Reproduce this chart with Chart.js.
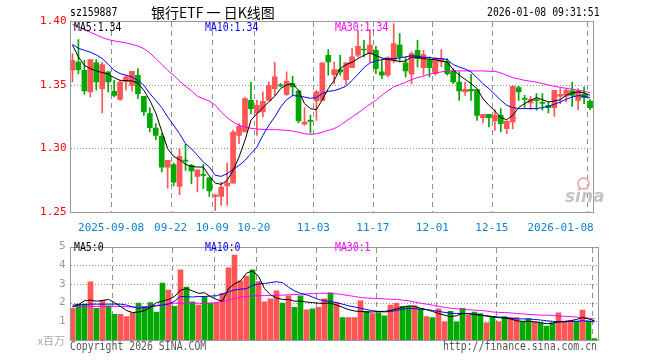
<!DOCTYPE html>
<html>
<head>
<meta charset="utf-8">
<script src="https://cdn.jsdelivr.net/npm/chart.js@4.4.1/dist/chart.umd.min.js"></script>
<style>
  body { margin: 0; background: #fff; }
  #wrap { position: relative; width: 660px; height: 360px; overflow: hidden; background: #fff; }
  canvas { position: absolute; left: 0; }
  .t { position: absolute; font: 12px "DejaVu Sans Mono", monospace; line-height: 12px; white-space: pre; transform: scaleX(0.82); transform-origin: 0 0; }
  .cjk { position: absolute; font-family: "Noto Sans CJK SC", sans-serif; white-space: pre; }
</style>
</head>
<body>
<div id="wrap">
  <canvas id="kChart" width="660" height="236" style="top:0"></canvas>
  <canvas id="volChart" width="660" height="124" style="top:236px"></canvas>

  <div class="t" style="left:70px;top:6px;color:#000">sz159887</div>
  <div class="cjk" style="left:151px;top:2px;font-size:14px;line-height:20px;color:#000">银行ETF 一 日K线图</div>
  <div class="t" style="left:487px;top:6px;color:#000">2026-01-08 09:31:51</div>

  <div class="t" style="left:74px;top:21px;color:#000">MA5:1.34</div>
  <div class="t" style="left:205px;top:21px;color:#0000ff">MA10:1.34</div>
  <div class="t" style="left:335px;top:21px;color:#ff00ff">MA30:1.34</div>

  <div class="t" style="left:74px;top:241px;color:#000">MA5:0</div>
  <div class="t" style="left:205px;top:241px;color:#0000ff">MA10:0</div>
  <div class="t" style="left:335px;top:241px;color:#ff00ff">MA30:1</div>

  <div class="cjk" style="right:595px;top:333px;font-size:11px;line-height:14px;color:#aaa">x百万</div>
  <div class="t" style="left:70px;top:340px;color:#555">Copyright 2026 SINA.COM</div>
  <div class="t" style="left:443px;top:340px;color:#555">http://finance.sina.com.cn</div>

  <div style="position:absolute;left:577px;top:177px;width:9px;height:9px;border:2px solid #f3b0b0;border-radius:50%"></div>
  <div style="position:absolute;left:565px;top:186px;font:italic bold 17px 'DejaVu Sans',sans-serif;color:#c4c4c4">sina</div>
</div>

<script>
const dates = [
  '2025-08-28', '2025-08-29', '2025-09-01', '2025-09-02', '2025-09-03', '2025-09-04', '2025-09-05',
  '2025-09-08', '2025-09-09', '2025-09-10', '2025-09-11', '2025-09-12',
  '2025-09-15', '2025-09-16', '2025-09-17', '2025-09-18', '2025-09-19',
  '2025-09-22', '2025-09-23', '2025-09-24', '2025-09-25', '2025-09-26',
  '2025-09-29', '2025-09-30', '2025-10-09', '2025-10-10',
  '2025-10-13', '2025-10-14', '2025-10-15', '2025-10-16', '2025-10-17',
  '2025-10-20', '2025-10-21', '2025-10-22', '2025-10-23', '2025-10-24',
  '2025-10-27', '2025-10-28', '2025-10-29', '2025-10-30', '2025-10-31',
  '2025-11-03', '2025-11-04', '2025-11-05', '2025-11-06', '2025-11-07',
  '2025-11-10', '2025-11-11', '2025-11-12', '2025-11-13', '2025-11-14',
  '2025-11-17', '2025-11-18', '2025-11-19', '2025-11-20', '2025-11-21',
  '2025-11-24', '2025-11-25', '2025-11-26', '2025-11-27', '2025-11-28',
  '2025-12-01', '2025-12-02', '2025-12-03', '2025-12-04', '2025-12-05',
  '2025-12-08', '2025-12-09', '2025-12-10', '2025-12-11', '2025-12-12',
  '2025-12-15', '2025-12-16', '2025-12-17', '2025-12-18', '2025-12-19',
  '2025-12-22', '2025-12-23', '2025-12-24', '2025-12-25', '2025-12-26',
  '2025-12-29', '2025-12-30', '2025-12-31',
  '2026-01-05', '2026-01-06', '2026-01-07', '2026-01-08'
];

// dates that get a label + dashed grid line, and the text shown
const tickDates = ['2025-09-08', '2025-09-22', '2025-10-09', '2025-10-20', '2025-11-03', '2025-11-17', '2025-12-01', '2025-12-15', '2026-01-08'];
const tickTexts = ['2025-09-08', '09-22', '10-09', '10-20', '11-03', '11-17', '12-01', '12-15', '2026-01-08        '];

const priceTicks = [1.25, 1.30, 1.35, 1.40];
const volTicks = [1, 2, 3, 4, 5];

const openP = [
  1.3613, 1.3678, 1.3613, 1.3443, 1.3671, 1.3469, 1.3600, 1.3448, 1.3385, 1.3521,
  1.3495, 1.3574, 1.3409, 1.3272, 1.3160, 1.3094, 1.2853, 1.2872, 1.2701, 1.2906,
  1.2866, 1.2780, 1.2796, 1.2769, 1.2622, 1.2623, 1.2704, 1.2727, 1.3102, 1.3128,
  1.3377, 1.3278, 1.3285, 1.3377, 1.3469, 1.3497, 1.3424, 1.3508, 1.3451, 1.3189,
  1.3217, 1.3372, 1.3377, 1.3731, 1.3579, 1.3618, 1.3540, 1.3634, 1.3731, 1.3777,
  1.3744, 1.3770, 1.3600, 1.3574, 1.3686, 1.3810, 1.3671, 1.3582, 1.3770, 1.3634,
  1.3692, 1.3587, 1.3678, 1.3678, 1.3608, 1.3521, 1.3443, 1.3464, 1.3461, 1.3241,
  1.3267, 1.3215, 1.3259, 1.3154, 1.3207, 1.3477, 1.3390, 1.3356, 1.3380, 1.3358,
  1.3338, 1.3320, 1.3409, 1.3409, 1.3451, 1.3377, 1.3424, 1.3372
];
const closeP = [
  1.3692, 1.3618, 1.3451, 1.3697, 1.3521, 1.3658, 1.3521, 1.3416, 1.3521, 1.3561,
  1.3605, 1.3430, 1.3285, 1.3162, 1.3102, 1.2853, 1.2906, 1.2735, 1.2937, 1.2900,
  1.2822, 1.2832, 1.2788, 1.2665, 1.2635, 1.2696, 1.2730, 1.3128, 1.3173, 1.3390,
  1.3312, 1.3338, 1.3369, 1.3495, 1.3561, 1.3490, 1.3527, 1.3482, 1.3215, 1.3207,
  1.3212, 1.3443, 1.3671, 1.3678, 1.3618, 1.3600, 1.3671, 1.3718, 1.3802, 1.3772,
  1.3810, 1.3626, 1.3574, 1.3713, 1.3823, 1.3718, 1.3608, 1.3744, 1.3705, 1.3736,
  1.3634, 1.3705, 1.3705, 1.3587, 1.3521, 1.3451, 1.3464, 1.3451, 1.3259, 1.3267,
  1.3241, 1.3259, 1.3194, 1.3215, 1.3487, 1.3443, 1.3385, 1.3382, 1.3375, 1.3353,
  1.3320, 1.3456, 1.3424, 1.3456, 1.3416, 1.3451, 1.3398, 1.3320
];
const highP = [
  1.3744, 1.3854, 1.3692, 1.3697, 1.3697, 1.3678, 1.3600, 1.3534, 1.3534, 1.3574,
  1.3605, 1.3626, 1.3409, 1.3320, 1.3194, 1.3115, 1.2906, 1.2885, 1.2997, 1.3031,
  1.2874, 1.2832, 1.2874, 1.2769, 1.2635, 1.2735, 1.2885, 1.3141, 1.3194, 1.3398,
  1.3521, 1.3377, 1.3443, 1.3521, 1.3678, 1.3508, 1.3600, 1.3566, 1.3456, 1.3320,
  1.3259, 1.3456, 1.3671, 1.3775, 1.3678, 1.3731, 1.3671, 1.3783, 1.3927, 1.3849,
  1.3933, 1.3802, 1.3692, 1.3718, 1.3980, 1.3901, 1.3718, 1.3757, 1.3849, 1.3770,
  1.3718, 1.3713, 1.3775, 1.3705, 1.3626, 1.3600, 1.3521, 1.3582, 1.3461, 1.3267,
  1.3267, 1.3304, 1.3312, 1.3215, 1.3487, 1.3487, 1.3416, 1.3409, 1.3430, 1.3430,
  1.3364, 1.3456, 1.3469, 1.3469, 1.3521, 1.3469, 1.3482, 1.3382
];
const lowP = [
  1.3521, 1.3587, 1.3424, 1.3403, 1.3456, 1.3278, 1.3443, 1.3403, 1.3377, 1.3456,
  1.3448, 1.3390, 1.3259, 1.3128, 1.3068, 1.2814, 1.2688, 1.2704, 1.2636, 1.2827,
  1.2722, 1.2657, 1.2683, 1.2623, 1.2512, 1.2551, 1.2552, 1.2727, 1.3037, 1.3128,
  1.3272, 1.3102, 1.3246, 1.3377, 1.3416, 1.3482, 1.3416, 1.3416, 1.3199, 1.3181,
  1.3120, 1.3220, 1.3377, 1.3574, 1.3508, 1.3574, 1.3500, 1.3634, 1.3718, 1.3718,
  1.3678, 1.3587, 1.3547, 1.3561, 1.3671, 1.3678, 1.3561, 1.3508, 1.3639, 1.3574,
  1.3561, 1.3574, 1.3639, 1.3574, 1.3508, 1.3377, 1.3416, 1.3377, 1.3220, 1.3199,
  1.3168, 1.3141, 1.3128, 1.3115, 1.3154, 1.3377, 1.3320, 1.3304, 1.3299, 1.3299,
  1.3278, 1.3251, 1.3351, 1.3364, 1.3330, 1.3304, 1.3351, 1.3304
];

const ma5 = [
  1.3810, 1.3718, 1.3652, 1.3626, 1.3608, 1.3595, 1.3584, 1.3555, 1.3534, 1.3532,
  1.3529, 1.3513, 1.3456, 1.3377, 1.3278, 1.3134, 1.2997, 1.2937, 1.2911, 1.2874,
  1.2858, 1.2853, 1.2853, 1.2783, 1.2727, 1.2717, 1.2748, 1.2827, 1.2932, 1.3063,
  1.3220, 1.3272, 1.3320, 1.3364, 1.3409, 1.3469, 1.3498, 1.3508, 1.3456, 1.3351,
  1.3312, 1.3304, 1.3382, 1.3469, 1.3534, 1.3626, 1.3658, 1.3676, 1.3705, 1.3731,
  1.3749, 1.3728, 1.3710, 1.3699, 1.3692, 1.3681, 1.3686, 1.3718, 1.3713, 1.3705,
  1.3699, 1.3697, 1.3686, 1.3678, 1.3618, 1.3574, 1.3542, 1.3508, 1.3469, 1.3390,
  1.3338, 1.3293, 1.3241, 1.3225, 1.3259, 1.3320, 1.3351, 1.3377, 1.3398, 1.3382,
  1.3364, 1.3372, 1.3382, 1.3417, 1.3435, 1.3443, 1.3435, 1.3417
];
const ma10 = [
  1.3817, 1.3786, 1.3770, 1.3755, 1.3734, 1.3705, 1.3660, 1.3613, 1.3587, 1.3574,
  1.3561, 1.3534, 1.3495, 1.3430, 1.3377, 1.3320, 1.3246, 1.3181, 1.3115, 1.3037,
  1.2997, 1.2945, 1.2892, 1.2853, 1.2788, 1.2780, 1.2801, 1.2835, 1.2866, 1.2906,
  1.2958, 1.3010, 1.3102, 1.3181, 1.3246, 1.3325, 1.3382, 1.3414, 1.3411, 1.3403,
  1.3393, 1.3398, 1.3430, 1.3448, 1.3453, 1.3469, 1.3487, 1.3534, 1.3582, 1.3634,
  1.3671, 1.3686, 1.3697, 1.3702, 1.3705, 1.3710, 1.3718, 1.3728, 1.3723, 1.3715,
  1.3713, 1.3707, 1.3705, 1.3697, 1.3658, 1.3639, 1.3623, 1.3600, 1.3555, 1.3508,
  1.3469, 1.3424, 1.3377, 1.3338, 1.3320, 1.3312, 1.3312, 1.3312, 1.3312, 1.3320,
  1.3330, 1.3346, 1.3364, 1.3385, 1.3403, 1.3414, 1.3409, 1.3398
];
const ma30 = [
  1.3975, 1.3954, 1.3933, 1.3912, 1.3891, 1.3870, 1.3854, 1.3844, 1.3836, 1.3828,
  1.3817, 1.3804, 1.3783, 1.3749, 1.3705, 1.3660, 1.3613, 1.3574, 1.3529, 1.3487,
  1.3451, 1.3409, 1.3388, 1.3372, 1.3338, 1.3285, 1.3241, 1.3207, 1.3181, 1.3168,
  1.3157, 1.3152, 1.3149, 1.3147, 1.3147, 1.3144, 1.3141, 1.3136, 1.3126, 1.3115,
  1.3110, 1.3115, 1.3126, 1.3141, 1.3155, 1.3181, 1.3215, 1.3246, 1.3278, 1.3312,
  1.3346, 1.3377, 1.3417, 1.3451, 1.3482, 1.3500, 1.3519, 1.3540, 1.3555, 1.3568,
  1.3582, 1.3592, 1.3600, 1.3608, 1.3608, 1.3608, 1.3608, 1.3608, 1.3608, 1.3608,
  1.3605, 1.3605, 1.3592, 1.3574, 1.3555, 1.3545, 1.3534, 1.3527, 1.3519, 1.3508,
  1.3498, 1.3487, 1.3479, 1.3471, 1.3464, 1.3456, 1.3448, 1.3437
];

// volume, millions
const volume = [
  1.70, 1.92, 1.92, 3.12, 1.70, 2.13, 1.83, 1.37, 1.37, 1.25,
  1.45, 1.97, 1.80, 2.00, 1.50, 3.05, 2.67, 1.80, 3.75, 2.83,
  2.05, 1.87, 2.33, 1.97, 2.00, 2.50, 3.87, 4.55, 3.17, 3.42,
  3.75, 3.13, 2.05, 2.20, 2.63, 1.97, 2.37, 1.75, 2.37, 1.62,
  1.67, 1.75, 2.20, 2.53, 2.00, 1.20, 1.20, 1.20, 2.10, 1.53,
  1.42, 1.47, 1.30, 1.87, 1.97, 1.80, 1.80, 1.83, 1.67, 1.25,
  1.20, 1.67, 0.97, 1.53, 0.97, 1.70, 1.33, 1.50, 1.42, 0.92,
  1.25, 0.97, 1.25, 1.20, 1.20, 1.00, 1.13, 0.97, 0.92, 0.75,
  0.92, 1.45, 0.97, 1.03, 1.00, 1.60, 1.03, 0.07
];
const volMa5 = [
  1.77, 1.90, 2.10, 2.13, 2.08, 2.12, 2.17, 2.00, 1.80, 1.58,
  1.47, 1.50, 1.57, 1.75, 2.00, 2.08, 2.17, 2.33, 2.67, 2.75,
  2.63, 2.50, 2.53, 2.33, 2.17, 2.08, 2.75, 3.00, 3.17, 3.58,
  3.70, 3.42, 2.75, 2.42, 2.25, 2.17, 2.17, 2.08, 2.08, 2.03,
  2.00, 1.97, 1.97, 1.97, 1.87, 1.75, 1.63, 1.55, 1.53, 1.50,
  1.50, 1.53, 1.53, 1.58, 1.67, 1.75, 1.83, 1.80, 1.70, 1.63,
  1.53, 1.42, 1.33, 1.25, 1.30, 1.42, 1.42, 1.37, 1.33, 1.28,
  1.25, 1.20, 1.17, 1.13, 1.03, 1.00, 1.00, 0.97, 0.93, 0.87,
  0.90, 0.97, 1.00, 1.03, 1.10, 1.20, 1.13, 1.03
];
const volMa10 = [
  1.87, 1.88, 1.90, 1.92, 1.92, 1.92, 1.92, 1.92, 1.92, 1.87,
  1.77, 1.70, 1.73, 1.78, 1.83, 1.87, 1.92, 2.08, 2.33, 2.32,
  2.30, 2.33, 2.33, 2.35, 2.37, 2.47, 2.58, 2.68, 2.72, 2.75,
  2.92, 3.00, 3.03, 3.07, 3.12, 3.07, 2.83, 2.63, 2.50, 2.42,
  2.30, 2.17, 2.10, 2.07, 2.00, 1.92, 1.83, 1.77, 1.70, 1.63,
  1.57, 1.53, 1.50, 1.53, 1.58, 1.65, 1.70, 1.68, 1.65, 1.63,
  1.58, 1.53, 1.48, 1.43, 1.42, 1.42, 1.40, 1.37, 1.33, 1.30,
  1.25, 1.23, 1.20, 1.17, 1.13, 1.13, 1.13, 1.10, 1.07, 1.03,
  1.00, 0.97, 0.97, 1.00, 1.00, 1.03, 1.00, 0.97
];
const volMa30 = [
  1.80, 1.80, 1.80, 1.80, 1.80, 1.80, 1.80, 1.80, 1.80, 1.78,
  1.77, 1.75, 1.78, 1.82, 1.85, 1.90, 1.95, 1.97, 1.97, 1.97,
  1.97, 1.97, 1.97, 1.97, 2.00, 2.07, 2.13, 2.22, 2.30, 2.33,
  2.37, 2.37, 2.38, 2.38, 2.40, 2.40, 2.42, 2.43, 2.45, 2.47,
  2.48, 2.50, 2.50, 2.50, 2.47, 2.43, 2.38, 2.33, 2.28, 2.25,
  2.23, 2.22, 2.20, 2.18, 2.17, 2.13, 2.10, 2.03, 1.97, 1.92,
  1.87, 1.80, 1.75, 1.70, 1.67, 1.63, 1.62, 1.60, 1.58, 1.55,
  1.50, 1.48, 1.47, 1.45, 1.42, 1.40, 1.37, 1.35, 1.33, 1.33,
  1.32, 1.28, 1.27, 1.25, 1.23, 1.20, 1.17, 1.13
];

const upColor = '#ff5555';
const downColor = '#00a800';
const gridColor = '#909090';
const monoFont = { family: 'DejaVu Sans Mono', size: 11 };

const candleColors = openP.map((o, i) => (closeP[i] >= o ? upColor : downColor));
const tickIndex = tickDates.map(d => dates.indexOf(d));

// broken line drawn as small filled rects
const brokenLine = (ctx, vertical, fixed, from, to, on, off) => {
  for (let d = from; d < to; d += on + off) {
    const len = Math.min(on, to - d);
    if (vertical) {
      ctx.fillRect(fixed, d, 1, len);
    } else {
      ctx.fillRect(d, fixed, len, 1);
    }
  }
};

// dashed date lines + dotted value lines, placed with the chart's own scales
const gridPlugin = {
  id: 'dashGrid',
  beforeDatasetsDraw(chart) {
    const { ctx, chartArea, scales } = chart;
    const x = scales.x;
    const y = scales.y;
    const half = (x.getPixelForValue(1) - x.getPixelForValue(0)) / 2;
    const top = Math.round(chartArea.top) + 1;
    const bottom = Math.round(chartArea.bottom);
    const left = Math.round(chartArea.left) + 1;
    const right = Math.round(chartArea.right);
    ctx.save();
    ctx.fillStyle = gridColor;
    tickIndex.forEach(i => {
      const px = Math.round(x.getPixelForValue(i) - half);
      brokenLine(ctx, true, px, top, bottom, 5, 4);
    });
    y.ticks.forEach(t => {
      if (t.value <= y.min || t.value >= y.max) return;
      const py = Math.round(y.getPixelForValue(t.value));
      brokenLine(ctx, false, py, left, right, 1, 2);
    });
    ctx.restore();
  }
};

// box round the plot area
const framePlugin = {
  id: 'frame',
  afterDraw(chart) {
    const { ctx, chartArea } = chart;
    const l = Math.round(chartArea.left) + 0.5;
    const r = Math.round(chartArea.right) + 0.5;
    const t = Math.round(chartArea.top) + 0.5;
    const b = Math.round(chartArea.bottom) + 0.5;
    ctx.save();
    ctx.strokeStyle = '#999';
    ctx.lineWidth = 1;
    ctx.strokeRect(l, t, r - l, b - t);
    ctx.restore();
  }
};

const lineSet = (data, color) => ({
  type: 'line',
  data,
  borderColor: color,
  borderWidth: 1,
  pointRadius: 0,
  tension: 0,
  fill: false,
  order: 0
});

const xAxis = showLabels => ({
  offset: true,
  grid: { display: false, drawTicks: false },
  border: { display: false },
  ticks: {
    display: showLabels,
    autoSkip: false,
    maxRotation: 0,
    minRotation: 0,
    labelOffset: -3,
    padding: 10,
    color: '#0a84d6',
    font: monoFont,
    callback: (value, index) => {
      const pos = tickIndex.indexOf(index);
      return pos >= 0 ? tickTexts[pos] : '';
    }
  },
  afterFit: scale => { scale.height = showLabels ? 24 : 0; }
});

const commonOptions = {
  responsive: false,
  animation: false,
  devicePixelRatio: 1,
  events: [],
  plugins: { legend: { display: false }, tooltip: { enabled: false } }
};

new Chart(document.getElementById('kChart'), {
  type: 'bar',
  data: {
    labels: dates,
    datasets: [
      lineSet(ma5, '#000000'),
      lineSet(ma10, '#0000ff'),
      lineSet(ma30, '#ff00ff'),
      {
        data: openP.map((o, i) => [o, closeP[i]]),
        backgroundColor: candleColors,
        barThickness: 5,
        minBarLength: 1,
        grouped: false,
        order: 1
      },
      {
        data: lowP.map((l, i) => [l, highP[i]]),
        backgroundColor: candleColors,
        barThickness: 1,
        grouped: false,
        order: 2
      }
    ]
  },
  options: {
    ...commonOptions,
    layout: { padding: { top: 21, right: 62.5, left: 0, bottom: 0 } },
    scales: {
      x: xAxis(true),
      y: {
        min: priceTicks[0],
        max: priceTicks[priceTicks.length - 1],
        afterBuildTicks: scale => { scale.ticks = priceTicks.map(v => ({ value: v })); },
        grid: { display: false, drawTicks: false },
        border: { display: false },
        ticks: {
          padding: 3,
          color: '#ff0000',
          font: monoFont,
          callback: v => Number(v).toFixed(2)
        },
        afterFit: scale => { scale.width = 69.5; }
      }
    }
  },
  plugins: [gridPlugin, framePlugin]
});

new Chart(document.getElementById('volChart'), {
  type: 'bar',
  data: {
    labels: dates,
    datasets: [
      lineSet(volMa5, '#000000'),
      lineSet(volMa10, '#0000ff'),
      lineSet(volMa30, '#ff00ff'),
      {
        data: volume,
        backgroundColor: candleColors,
        barThickness: 5,
        grouped: false,
        order: 1
      }
    ]
  },
  options: {
    ...commonOptions,
    layout: { padding: { top: 4, right: 62.5, left: 0, bottom: 20 } },
    scales: {
      x: xAxis(false),
      y: {
        min: 0,
        max: 5,
        afterBuildTicks: scale => { scale.ticks = [0, ...volTicks].map(v => ({ value: v })); },
        grid: { display: false, drawTicks: false },
        border: { display: false },
        ticks: {
          padding: 4,
          color: '#999999',
          font: monoFont,
          callback: v => (v === 0 ? '' : v)
        },
        afterFit: scale => { scale.width = 69.5; }
      }
    }
  },
  plugins: [gridPlugin, framePlugin]
});
</script>
</body>
</html>
